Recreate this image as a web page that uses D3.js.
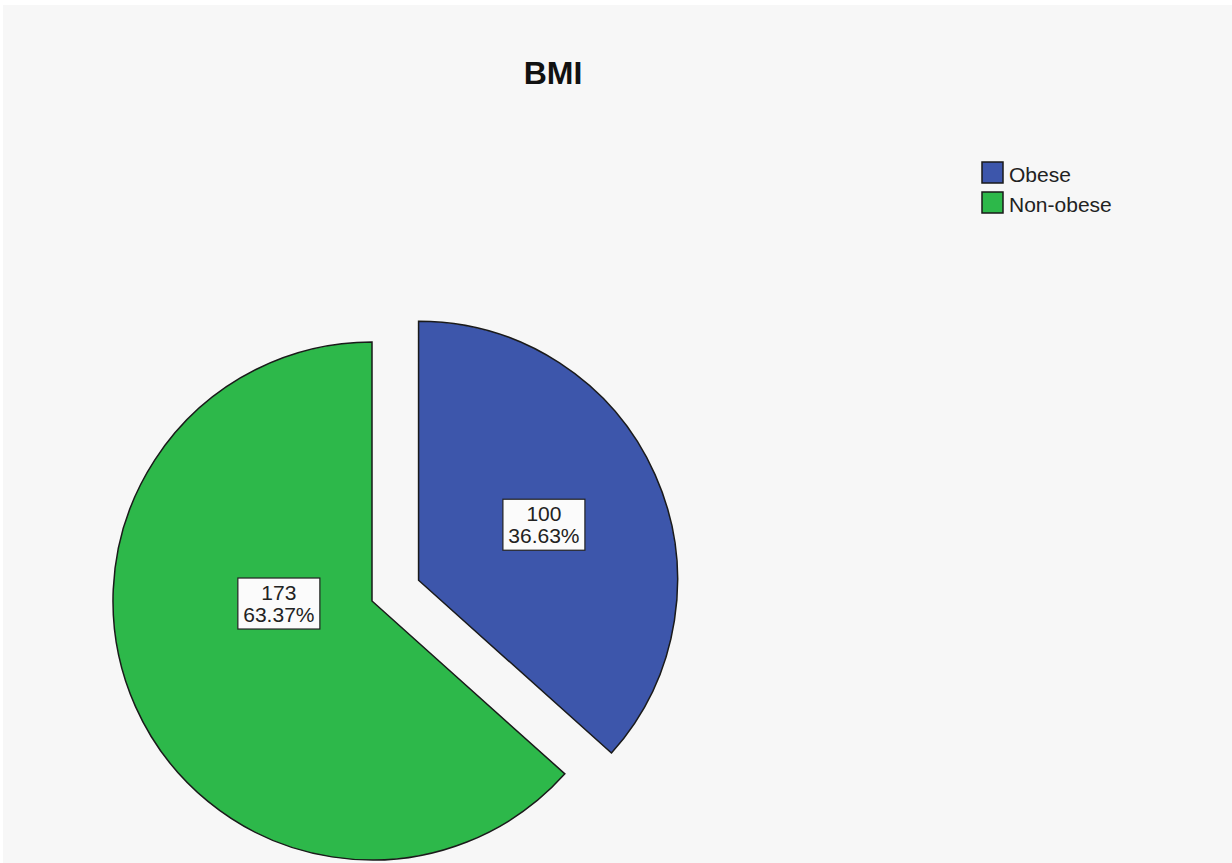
<!DOCTYPE html>
<html>
<head>
<meta charset="utf-8">
<script src="https://cdn.jsdelivr.net/npm/d3@7"></script>
<style>
  body { margin: 0; background: #ffffff; }
  svg { display: block; font-family: "Liberation Sans", Arial, sans-serif; }
</style>
</head>
<body>
<script>
// data
var categories = ["Obese", "Non-obese"];
var counts = [100, 173];
var percents = ["36.63%", "63.37%"];
var exploded = ["Obese"];

var width = 1232,
    height = 863,
    radius = 259,
    cx = 372,
    cy = 601,
    explode = 51;

var color = d3.scaleOrdinal()
    .domain(categories)
    .range(["#3d56ab", "#2db84a"]);

var data = categories.map(function(c, i) {
  return {category: c, value: counts[i], pct: percents[i]};
});

var pie = d3.pie()
    .sort(null)
    .value(function(d) { return d.value; });

var arc = d3.arc()
    .innerRadius(0)
    .outerRadius(radius);

var svg = d3.select("body").append("svg")
    .attr("width", width)
    .attr("height", height);

// chart background
svg.append("rect")
    .attr("x", 3).attr("y", 5)
    .attr("width", width - 3).attr("height", height - 5)
    .attr("fill", "#f7f7f7");

// title
svg.append("text")
    .attr("x", 553).attr("y", 84)
    .attr("text-anchor", "middle")
    .style("font-size", "32px")
    .style("font-weight", "bold")
    .attr("fill", "#111")
    .text("BMI");

var g = svg.append("g")
    .attr("transform", "translate(" + cx + "," + cy + ")");

function offset(d) {
  if (exploded.indexOf(d.data.category) < 0) return [0, 0];
  var a = (d.startAngle + d.endAngle) / 2;
  return [Math.sin(a) * explode, -Math.cos(a) * explode];
}

var slices = g.selectAll(".arc")
    .data(pie(data))
  .enter().append("g")
    .attr("class", "arc")
    .attr("transform", function(d) { return "translate(" + offset(d) + ")"; });

slices.append("path")
    .attr("d", arc)
    .attr("fill", function(d) { return color(d.data.category); })
    .attr("stroke", "#1a1a1a")
    .attr("stroke-width", 1.5)
    .attr("stroke-linejoin", "miter");

// label positions
function labelPos(d) {
  var r = exploded.indexOf(d.data.category) < 0 ? radius * 0.36 : radius * 0.53;
  return d3.arc().innerRadius(r).outerRadius(r).centroid(d);
}

var labels = slices.append("g")
    .attr("transform", function(d) {
      var p = labelPos(d);
      if (exploded.indexOf(d.data.category) < 0) p = [p[0] - 8, p[1] - 36];
      return "translate(" + p + ")";
    });

labels.append("rect")
    .attr("x", -41).attr("y", -25)
    .attr("width", 82).attr("height", 51)
    .attr("fill", "#fbfbfb")
    .attr("stroke", "#222")
    .attr("stroke-width", 1.2);

labels.append("text")
    .attr("text-anchor", "middle")
    .attr("y", -3)
    .style("font-size", "21px")
    .attr("fill", "#222")
    .text(function(d) { return d.data.value; });

labels.append("text")
    .attr("text-anchor", "middle")
    .attr("y", 19)
    .style("font-size", "21px")
    .attr("fill", "#222")
    .text(function(d) { return d.data.pct; });

// legend
var legend = svg.append("g")
    .attr("transform", "translate(982,162)");

var item = legend.selectAll(".item")
    .data(categories)
  .enter().append("g")
    .attr("class", "item")
    .attr("transform", function(d, i) { return "translate(0," + i * 30 + ")"; });

item.append("rect")
    .attr("width", 21).attr("height", 21)
    .attr("fill", function(d) { return color(d); })
    .attr("stroke", "#1a1a1a")
    .attr("stroke-width", 1.5);

item.append("text")
    .attr("x", 27).attr("y", 20)
    .style("font-size", "21px")
    .attr("fill", "#222")
    .text(function(d) { return d; });
</script>
</body>
</html>
